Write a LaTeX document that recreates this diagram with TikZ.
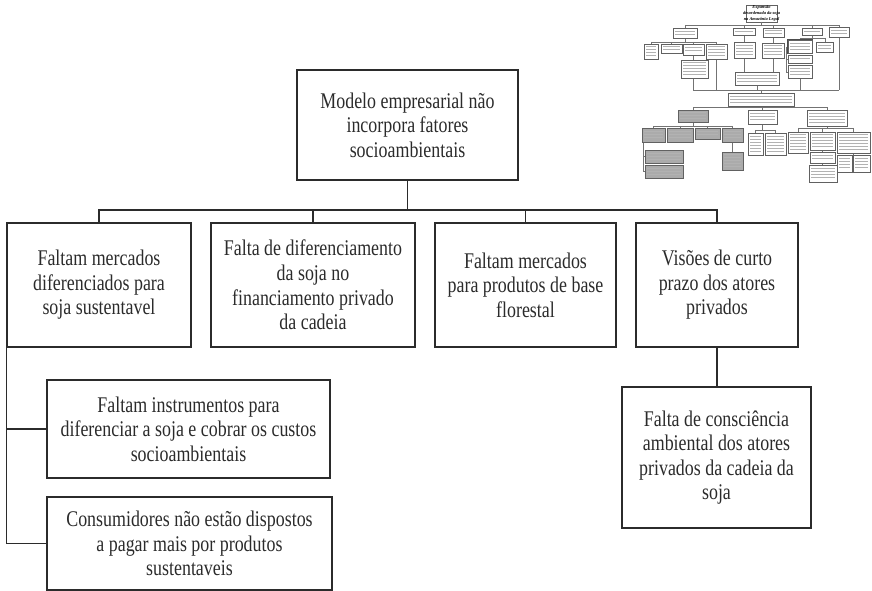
\documentclass[tikz,border=0pt]{standalone}
\usepackage{fontspec}
\setmainfont{Liberation Serif}
\newfontfamily\boxfont[FakeStretch=0.8]{Liberation Serif}
\definecolor{ink}{HTML}{2B2B2B}
\definecolor{shade}{HTML}{ABABAB}
\tikzset{
  box/.style={draw=ink, line width=1pt, rectangle, align=center, inner sep=0pt,
              text=ink, font=\boxfont\fontsize{16.8}{18.4}\selectfont},
  link/.style={draw=ink, line width=1pt},
  thumbframe/.style={draw=black!62, line width=0.4pt},
  thumbtext/.style={draw=black!30, line width=0.75pt},
  thumblink/.style={draw=black!55, line width=0.45pt},
}
% small overview box: corners (x1,y1) (x2,y2), fill colour; filled with text-like strokes
\newcommand\ovbox[5]{%
  \draw[thumbframe,fill=#5] (#1,#2) rectangle (#3,#4);
  \pgfmathtruncatemacro\nlines{max(1,((#4)-(#2)-3)/3)}%
  \pgfmathsetmacro\firsty{(#2)+((#4)-(#2)-(\nlines-1)*3)/2}%
  \foreach \k in {1,...,\nlines}{%
    \draw[thumbtext] ({#1+2.2},{\firsty+(\k-1)*3}) -- ({#3-2.2},{\firsty+(\k-1)*3});
  }%
}
\begin{document}
\begin{tikzpicture}[x=0.75pt, y=-0.75pt]
\useasboundingbox (0,0) rectangle (872,591);

% ---------- main tree ----------
\node[box, minimum width=165.75pt, minimum height=82.5pt] (root) at (407.5,125)
  {Modelo empresarial não\\incorpora fatores\\socioambientais};

\node[box, minimum width=138pt, minimum height=93pt] (mkt) at (99,285)
  {Faltam mercados\\diferenciados para\\soja sustentavel};
\node[box, minimum width=153pt, minimum height=93pt] (fin) at (313,285)
  {Falta de diferenciamento\\da soja no\\financiamento privado\\da cadeia};
\node[box, minimum width=135.75pt, minimum height=93pt] (flo) at (525.5,285)
  {Faltam mercados\\para produtos de base\\florestal};
\node[box, minimum width=121.5pt, minimum height=93pt] (vis) at (717,285)
  {Visões de curto\\prazo dos atores\\privados};

\node[box, minimum width=212.25pt, minimum height=73.5pt] (ins) at (188.5,429)
  {Faltam instrumentos para\\diferenciar a soja e cobrar os custos\\socioambientais};
\node[box, minimum width=213.75pt, minimum height=69.75pt] (con) at (189.5,543.5)
  {Consumidores não estão dispostos\\a pagar mais por produtos\\sustentaveis};
\node[box, minimum width=141.75pt, minimum height=105.75pt] (cons) at (716.5,457.5)
  {Falta de consciência\\ambiental dos atores\\privados da cadeia da\\soja};

\coordinate (bus) at (407.5,210);
\draw[link] (root.south) -- (bus);
\draw[link] (mkt.north) |- (bus) -| (vis.north);
\draw[link] (fin.north) -- (fin.north |- bus);
\draw[link] (flo.north) -- (flo.north |- bus);
\draw[link] (vis.south) -- (vis.south |- cons.north);

\coordinate (trunk) at (mkt.south west);
\draw[link] (trunk) |- (con.west);
\draw[link] (ins.west) -- (ins.west -| trunk);

% ---------- overview of the full tree ----------
\draw[thumbframe, fill=white] (746,5) rectangle (777,22);
\node[font=\fontsize{3.3}{4.6}\selectfont\bfseries\itshape, align=center, inner sep=0pt]
  (ovtitle) at (761.5,13.5) {Expansão\\desordenada da soja\\na Amazônia Legal};

% connectors
\draw[thumblink] (761.5,22) -- (761.5,25);
\draw[thumblink] (685,25) -- (839,25);
\foreach \x/\y in {685/28,744/28,773/28,812/28,839/27}{\draw[thumblink] (\x,25) -- (\x,\y);}
\draw[thumblink] (685,38) -- (685,42);
\draw[thumblink] (651,42) -- (716,42);
\foreach \x in {651,671,693,716}{\draw[thumblink] (\x,42) -- (\x,44);}
\draw[thumblink] (693,55) -- (693,60);
\draw[thumblink] (744,35) -- (744,42);
\draw[thumblink] (773,37) -- (773,43);
\draw[thumblink] (812,35) -- (812,38);
\draw[thumblink] (800,38) -- (825,38);
\draw[thumblink] (800,38) -- (800,40);
\draw[thumblink] (825,38) -- (825,42);
\draw[thumblink] (786,47) -- (786,72) -- (788,72);
\draw[thumblink] (786,59) -- (788,59);
\draw[thumblink] (744,58) -- (744,72);
\draw[thumblink] (773,58) -- (773,72);
\draw[thumblink] (693,78) -- (693,90);
\draw[thumblink] (716,59) -- (716,90);
\draw[thumblink] (757,85) -- (757,90);
\draw[thumblink] (800,78) -- (800,90);
\draw[thumblink] (839,37) -- (839,90);
\draw[thumblink] (693,90) -- (839,90);
\draw[thumblink] (761,90) -- (761,93);
\draw[thumblink] (761,106) -- (761,107.5);
\draw[thumblink] (693,107.5) -- (827,107.5);
\foreach \x in {693,762,827}{\draw[thumblink] (\x,107.5) -- (\x,110);}
\draw[thumblink] (693,122) -- (693,126);
\draw[thumblink] (653,126) -- (732,126);
\foreach \x in {653,680,707,732}{\draw[thumblink] (\x,126) -- (\x,128);}
\draw[thumblink] (643,142) -- (643,171.5) -- (645,171.5);
\draw[thumblink] (643,156.5) -- (645,156.5);
\draw[thumblink] (732,142) -- (732,152);
\draw[thumblink] (762,124) -- (762,130);
\draw[thumblink] (755,130) -- (775,130);
\foreach \x in {755,775}{\draw[thumblink] (\x,130) -- (\x,133);}
\draw[thumblink] (827,126) -- (827,128);
\draw[thumblink] (798,128) -- (853,128);
\foreach \x in {798,822,853}{\draw[thumblink] (\x,128) -- (\x,132);}
\draw[thumblink] (822,150) -- (822,152);
\draw[thumblink] (822,163) -- (822,165);
\draw[thumblink] (853,153) -- (853,155);
\draw[thumblink] (844,155) -- (862,155);

% boxes, first level
\ovbox{673}{28}{697}{38}{white}
\ovbox{733}{28}{755}{35}{white}
\ovbox{763}{28}{784}{37}{white}
\ovbox{802}{28}{822}{35}{white}
\ovbox{829}{27}{849}{37}{white}
% second level
\ovbox{644}{44}{658}{59}{white}
\ovbox{661}{44}{682}{53}{white}
\ovbox{683}{44}{704}{55}{white}
\ovbox{706}{44}{727}{59}{white}
\ovbox{681}{60}{708}{78}{white}
\ovbox{734}{42}{755}{58}{white}
\ovbox{762}{43}{784}{58}{white}
\draw[black!70, line width=0.8pt] (788,40) rectangle (812,53);
\ovbox{788}{40}{812}{53}{white}
\ovbox{816}{42}{833}{52}{white}
\ovbox{788}{55}{812}{63}{white}
\ovbox{788}{65}{812}{78}{white}
\ovbox{735}{72}{779}{85}{white}
\ovbox{728}{93}{794}{106}{white}
% third level
\ovbox{678}{110}{708}{122}{shade}
\ovbox{748}{110}{777}{124}{white}
\ovbox{807}{110}{847}{126}{white}
\ovbox{642}{128}{665}{142}{shade}
\ovbox{667}{128}{693}{142}{shade}
\ovbox{695}{128}{720}{139}{shade}
\ovbox{722}{128}{743}{142}{shade}
\ovbox{645}{150}{683}{163}{shade}
\ovbox{645}{165}{683}{178}{shade}
\ovbox{722}{152}{743}{170}{shade}
\ovbox{748}{133}{763}{155}{white}
\ovbox{765}{133}{786}{155}{white}
\ovbox{788}{132}{808}{153}{white}
\ovbox{810}{132}{835}{150}{white}
\ovbox{837}{132}{870}{153}{white}
\ovbox{810}{152}{835}{163}{white}
\ovbox{809}{165}{837}{182}{white}
\ovbox{837}{155}{852}{172}{white}
\ovbox{853}{155}{870}{172}{white}
\end{tikzpicture}
\end{document}
